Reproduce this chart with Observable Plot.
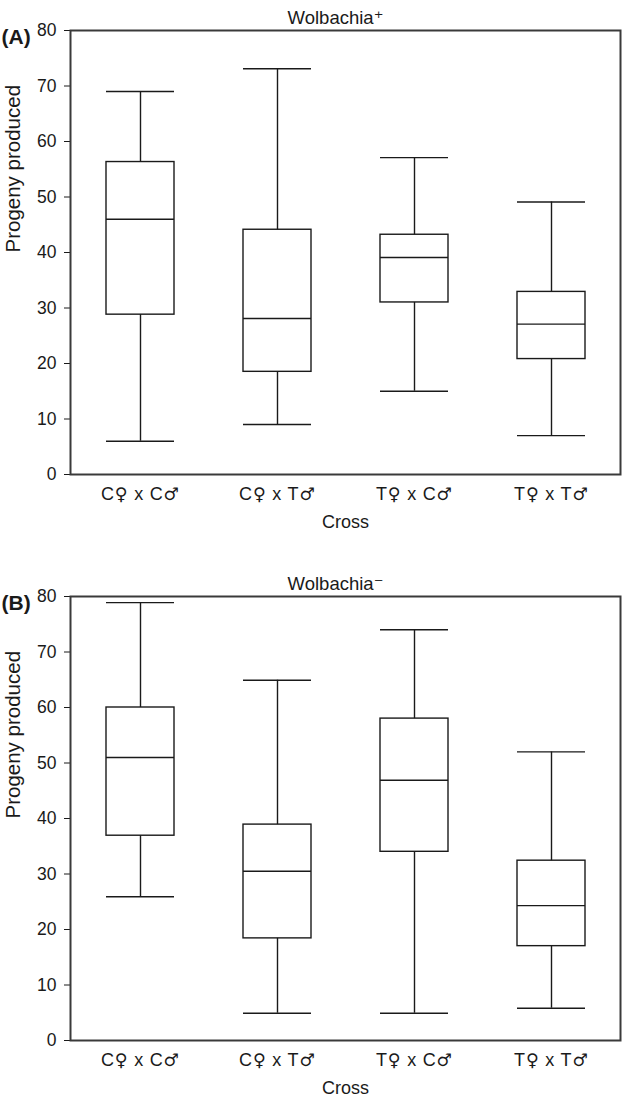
<!DOCTYPE html>
<html>
<head>
<meta charset="utf-8">
<script src="https://cdn.jsdelivr.net/npm/d3@7"></script>
<script src="https://cdn.jsdelivr.net/npm/@observablehq/plot@0.6"></script>
<style>
  html, body { margin: 0; padding: 0; background: #fff; }
  svg { display: block; }
</style>
</head>
<body>
<div id="chart"></div>
<script>
const categories = ["C\u2640 x C\u2642", "C\u2640 x T\u2642", "T\u2640 x C\u2642", "T\u2640 x T\u2642"];
const yTicks = [0, 10, 20, 30, 40, 50, 60, 70, 80];

// Panel A: Wolbachia+
const aLow    = [6.0, 9.0, 15.0, 7.0];
const aQ1     = [28.8, 18.5, 31.0, 20.8];
const aMedian = [46.0, 28.1, 39.1, 27.1];
const aQ3     = [56.3, 44.1, 43.2, 32.9];
const aHigh   = [69.0, 73.1, 57.1, 49.1];

// Panel B: Wolbachia-
const bLow    = [25.9, 4.9, 4.9, 5.8];
const bQ1     = [36.9, 18.4, 34.0, 17.0];
const bMedian = [51.0, 30.5, 46.9, 24.3];
const bQ3     = [60.0, 38.9, 58.0, 32.4];
const bHigh   = [78.9, 64.9, 74.0, 52.0];

const panels = [
  {tag: "(A)", title: "Wolbachia\u207A", low: aLow, q1: aQ1, med: aMedian, q3: aQ3, high: aHigh},
  {tag: "(B)", title: "Wolbachia\u207B", low: bLow, q1: bQ1, med: bMedian, q3: bQ3, high: bHigh}
];

const font = "'Liberation Sans', Arial, Helvetica, 'DejaVu Sans', sans-serif";
const ink = "#1a1a1a";

function makePanel(p) {
  const rows = categories.map((c, i) => ({cat: c, low: p.low[i], q1: p.q1[i], med: p.med[i], q3: p.q3[i], high: p.high[i]}));
  const svg = Plot.plot({
    width: 625,
    height: 566,
    marginTop: 30,
    marginBottom: 92,
    marginLeft: 70,
    marginRight: 5,
    style: {fontFamily: font, background: "#fff", color: ink},
    x: {domain: categories, paddingInner: 0.505, paddingOuter: 0.2525, label: null},
    y: {domain: [0, 80], label: null},
    marks: [
      Plot.axisY({ticks: yTicks, tickSize: 6, tickPadding: 8, fontSize: 17.5, stroke: ink, fill: ink, label: null}),
      Plot.axisX({tickSize: 0, tickPadding: 13, fontSize: 18, fill: ink, label: null}),
      Plot.ruleX(rows, {x: "cat", y1: "low", y2: "high", stroke: ink, strokeWidth: 1.4}),
      Plot.barY(rows, {x: "cat", y1: "q1", y2: "q3", fill: "white", stroke: ink, strokeWidth: 1.4}),
      Plot.tickY(rows, {x: "cat", y: "med", stroke: ink, strokeWidth: 1.4}),
      Plot.tickY(rows, {x: "cat", y: "low", stroke: ink, strokeWidth: 1.4}),
      Plot.tickY(rows, {x: "cat", y: "high", stroke: ink, strokeWidth: 1.4}),
      Plot.frame({stroke: "#3a3a3a", strokeWidth: 2}),
      Plot.text([p.title], {frameAnchor: "top", dx: -10, dy: -20, fontSize: 18.5, fill: ink}),
      Plot.text([p.tag], {frameAnchor: "top-left", dx: -69, dy: -1, textAnchor: "start", fontSize: 21, fontWeight: "bold", fill: ink}),
      Plot.text(["Progeny produced"], {frameAnchor: "left", dx: -57, rotate: -90, fontSize: 20.5, fill: ink}),
      Plot.text(["Cross"], {frameAnchor: "bottom", dy: 53, fontSize: 18, fill: ink})
    ]
  });
  // render the sex symbols with a font that draws them at full size
  d3.select(svg).selectAll("text").each(function () {
    const t = d3.select(this);
    const s = t.text();
    if (!/[\u2640\u2642]/.test(s) || t.selectAll("tspan").size() > 0) return;
    t.text(null).attr("letter-spacing", "0.8px");
    for (const part of s.split(/([\u2640\u2642])/)) {
      if (!part) continue;
      const sp = t.append("tspan").text(part);
      if (part === "\u2640" || part === "\u2642") sp.attr("font-family", "'DejaVu Sans', sans-serif").attr("font-size", 17.5);
    }
  });
  return svg;
}

const root = document.getElementById("chart");
for (const p of panels) root.appendChild(makePanel(p));
</script>
</body>
</html>
